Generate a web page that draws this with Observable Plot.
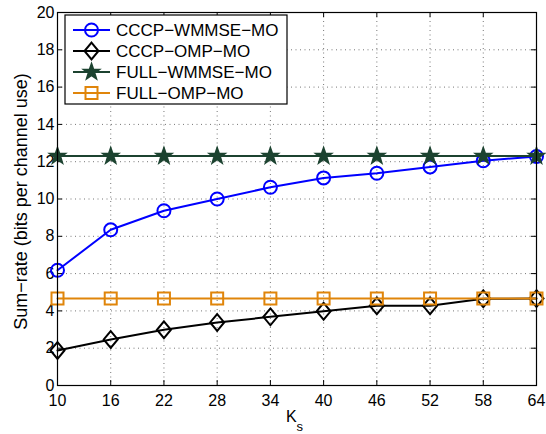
<!DOCTYPE html>
<html>
<head>
<meta charset="utf-8">
<script src="https://cdn.jsdelivr.net/npm/d3@7"></script>
<script src="https://cdn.jsdelivr.net/npm/@observablehq/plot@0.6"></script>
<style>
  html, body { margin: 0; padding: 0; background: #fff; }
  #chart { position: relative; width: 546px; height: 434px; }
  svg { font-family: "Liberation Sans", Arial, Helvetica, sans-serif; }
</style>
</head>
<body>
<div id="chart"></div>
<script>
// ---- data ----
const ks = [10, 16, 22, 28, 34, 40, 46, 52, 58, 64];
const cccpWmmse = [6.18, 8.35, 9.37, 10.0, 10.63, 11.13, 11.38, 11.72, 12.05, 12.28];
const cccpOmp   = [1.88, 2.47, 2.99, 3.38, 3.68, 3.98, 4.27, 4.27, 4.65, 4.66];
const fullWmmse = [12.3, 12.3, 12.3, 12.3, 12.3, 12.3, 12.3, 12.3, 12.3, 12.3];
const fullOmp   = [4.66, 4.66, 4.66, 4.66, 4.66, 4.66, 4.66, 4.66, 4.66, 4.66];
const seriesNames = ["CCCP\u2212WMMSE\u2212MO", "CCCP\u2212OMP\u2212MO", "FULL\u2212WMMSE\u2212MO", "FULL\u2212OMP\u2212MO"];
const xTicks = [10, 16, 22, 28, 34, 40, 46, 52, 58, 64];
const yTicks = [0, 2, 4, 6, 8, 10, 12, 14, 16, 18, 20];
const xLabel = "K";
const xLabelSub = "s";
const yLabel = "Sum\u2212rate (bits per channel use)";

// ---- styling ----
const W = 546, H = 434;
const mL = 57, mR = 10, mT = 12, mB = 49;
const frameW = W - mL - mR, frameH = H - mT - mB;
const tickLen = 5;

// custom marker symbols (r = sqrt(size/pi))
const rad = size => Math.sqrt(size / Math.PI);
const symCircle = { draw(c, size) { const r = rad(size); c.moveTo(r, 0); c.arc(0, 0, r, 0, 2 * Math.PI); } };
const symDiamond = { draw(c, size) { const r = rad(size); c.moveTo(0, -1.2 * r); c.lineTo(r, 0); c.lineTo(0, 1.2 * r); c.lineTo(-r, 0); c.closePath(); } };
const symSquare = { draw(c, size) { const r = rad(size); c.rect(-r, -r, 2 * r, 2 * r); } };
const symStar = { draw(c, size) {
  const R = rad(size), ri = R * 0.4;
  for (let i = 0; i < 10; i++) {
    const a = -Math.PI / 2 + i * Math.PI / 5;
    const rr = i % 2 ? ri : R;
    const x = rr * Math.cos(a), y = rr * Math.sin(a);
    if (i === 0) c.moveTo(x, y); else c.lineTo(x, y);
  }
  c.closePath();
} };

const series = [
  { name: seriesNames[0], values: cccpWmmse, color: "#0000ff", symbol: symCircle, r: 6.5, fill: "none" },
  { name: seriesNames[1], values: cccpOmp,   color: "#000000", symbol: symDiamond, r: 7, fill: "none" },
  { name: seriesNames[2], values: fullWmmse, color: "#1c4330", symbol: symStar, r: 7.8, fill: "#1c4330" },
  { name: seriesNames[3], values: fullOmp,   color: "#e0850a", symbol: symSquare, r: 6, fill: "none" }
];
const rows = series.map(s => ks.map((k, i) => ({ k, v: s.values[i] })));

const marks = [
  Plot.gridX(xTicks, { stroke: "#777", strokeOpacity: 1, strokeWidth: 1, strokeDasharray: "1,3.5" }),
  Plot.gridY(yTicks, { stroke: "#777", strokeOpacity: 1, strokeWidth: 1, strokeDasharray: "1,3.5" }),
  // inward ticks on all four sides
  Plot.tickX(xTicks, { x: d => d, insetTop: frameH - tickLen, stroke: "black" }),
  Plot.tickX(xTicks, { x: d => d, insetBottom: frameH - tickLen, stroke: "black" }),
  Plot.tickY(yTicks, { y: d => d, insetRight: frameW - tickLen, stroke: "black" }),
  Plot.tickY(yTicks, { y: d => d, insetLeft: frameW - tickLen, stroke: "black" }),
  Plot.axisX(xTicks, { tickSize: 0, tickPadding: 9, fontSize: 16, label: null, fill: "black" }),
  Plot.axisY(yTicks, { tickSize: 0, tickPadding: 3, fontSize: 16, label: null, fill: "black" })
];
series.forEach((s, i) => {
  marks.push(Plot.line(rows[i], { x: "k", y: "v", stroke: s.color, strokeWidth: 2 }));
  marks.push(Plot.dot(rows[i], { x: "k", y: "v", symbol: () => s.symbol, r: s.r, stroke: s.color, strokeWidth: 2, fill: s.fill }));
});
marks.push(Plot.frame({ stroke: "black", strokeWidth: 1.2 }));

const chart = Plot.plot({
  width: W, height: H,
  marginLeft: mL, marginRight: mR, marginTop: mT, marginBottom: mB,
  x: { domain: [10, 64], axis: null },
  y: { domain: [0, 20], axis: null },
  symbol: { type: "identity" },
  style: { fontFamily: "'Liberation Sans', Arial, Helvetica, sans-serif", background: "white", overflow: "visible" },
  marks
});
document.getElementById("chart").appendChild(chart);

// labels
const svg = d3.select(chart);
const xl = svg.append("text")
  .attr("x", mL + frameW / 2 - 2).attr("y", 422)
  .attr("text-anchor", "middle").attr("font-size", 16).attr("fill", "black");
xl.append("tspan").text(xLabel);
xl.append("tspan").attr("font-size", 13).attr("dy", 9).text(xLabelSub);

svg.append("text")
  .attr("transform", `translate(27,201.5) rotate(-90)`)
  .attr("text-anchor", "middle").attr("font-size", 18).attr("fill", "black")
  .text(yLabel);

// legend
const lg = svg.append("g").attr("transform", "translate(65,15)");
lg.append("rect").attr("width", 222).attr("height", 89).attr("fill", "white").attr("stroke", "black").attr("stroke-width", 1.2);
series.forEach((s, i) => {
  const y = 15 + i * 21;
  lg.append("line").attr("x1", 8).attr("x2", 45).attr("y1", y).attr("y2", y).attr("stroke", s.color).attr("stroke-width", 2);
  lg.append("path").attr("transform", `translate(26.5,${y})`)
    .attr("d", d3.symbol(s.symbol, Math.PI * s.r * s.r)())
    .attr("stroke", s.color).attr("stroke-width", 2).attr("fill", s.fill);
  lg.append("text").attr("x", 51).attr("y", y).attr("dy", "0.36em")
    .attr("text-anchor", "start")
    .attr("font-size", 17).attr("fill", "black").text(s.name);
});
</script>
</body>
</html>
